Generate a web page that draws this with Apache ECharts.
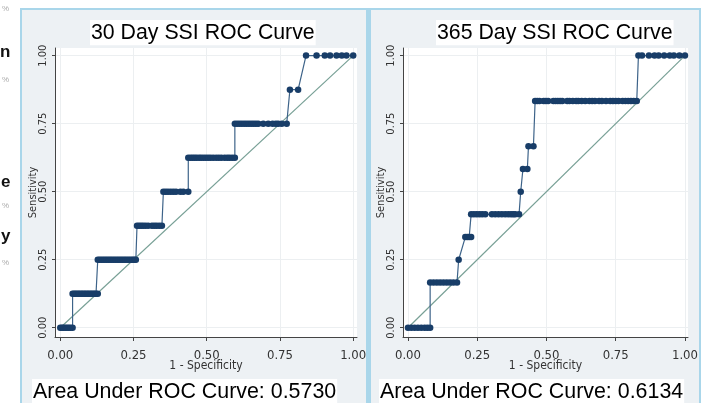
<!DOCTYPE html>
<html>
<head>
<meta charset="utf-8">
<script src="https://cdn.jsdelivr.net/npm/echarts@6/dist/echarts.min.js"></script>
<style>
  html, body { margin:0; padding:0; background:#ffffff; width:702px; height:403px; overflow:hidden; }
  .panel { position:absolute; background:#edf1f4; box-sizing:border-box; border:2px solid #a9d6ea; }
  #p1 { left:20px; top:8px; width:348px; height:402px; }
  #p2 { left:367px; top:8px; width:334px; height:402px; border-left:4px solid #a9d6ea; }
  #chart { position:absolute; left:0; top:0; width:702px; height:403px; }
</style>
</head>
<body>
<div class="panel" id="p1"></div>
<div class="panel" id="p2"></div>
<div id="chart"></div>
<script>
// ---- Data ----
const titles = ['30 Day SSI ROC Curve', '365 Day SSI ROC Curve'];
const aucTexts = ['Area Under ROC Curve: 0.5730', 'Area Under ROC Curve: 0.6134'];
const tickValues = [0, 0.25, 0.5, 0.75, 1];
const tickLabels = ['0.00', '0.25', '0.50', '0.75', '1.00'];

// 30-day: sensitivity levels and the 1-specificity values of the points on each level
const sens30 = [0, 0.125, 0.25, 0.375, 0.5, 0.625, 0.75, 0.875, 1.0];
const fpr30 = [
  [0, 0.006, 0.011, 0.017, 0.023, 0.029, 0.035, 0.042],
  [0.042, 0.047, 0.052, 0.057, 0.062, 0.067, 0.072, 0.077, 0.082, 0.087, 0.092, 0.097, 0.102, 0.107, 0.112, 0.117, 0.122, 0.128],
  [0.128, 0.134, 0.14, 0.146, 0.152, 0.158, 0.164, 0.17, 0.176, 0.182, 0.188, 0.194, 0.2, 0.206, 0.212, 0.218, 0.224, 0.23, 0.236, 0.242, 0.248, 0.253, 0.258],
  [0.262, 0.269, 0.276, 0.283, 0.291, 0.3, 0.313, 0.321, 0.329, 0.338, 0.347],
  [0.352, 0.36, 0.368, 0.377, 0.386, 0.395, 0.41, 0.42, 0.437],
  [0.437, 0.445, 0.452, 0.459, 0.466, 0.474, 0.481, 0.489, 0.497, 0.505, 0.513, 0.522, 0.532, 0.541, 0.55, 0.561, 0.57, 0.578, 0.587, 0.596],
  [0.596, 0.604, 0.612, 0.62, 0.628, 0.636, 0.644, 0.652, 0.66, 0.668, 0.676, 0.693, 0.71, 0.725, 0.736, 0.744, 0.756, 0.773],
  [0.784, 0.812],
  [0.839, 0.875, 0.903, 0.921, 0.943, 0.961, 0.977, 1.0]
];

// 365-day
const sens365 = [0, 0.1667, 0.25, 0.3333, 0.4167, 0.5, 0.5833, 0.6667, 0.8333, 1.0];
const fpr365 = [
  [0, 0.012, 0.024, 0.036, 0.048, 0.06, 0.07, 0.08],
  [0.08, 0.092, 0.104, 0.116, 0.128, 0.14, 0.152, 0.164, 0.177],
  [0.183],
  [0.207, 0.214, 0.221, 0.228],
  [0.228, 0.238, 0.248, 0.258, 0.268, 0.279, 0.303, 0.315, 0.327, 0.339, 0.351, 0.362, 0.372, 0.38, 0.387, 0.401],
  [0.407],
  [0.415, 0.431],
  [0.435, 0.453],
  [0.459, 0.467, 0.475, 0.49, 0.498, 0.506, 0.525, 0.533, 0.541, 0.549, 0.557, 0.575, 0.583, 0.595, 0.607, 0.615, 0.627, 0.64, 0.655, 0.665, 0.675, 0.69, 0.7, 0.715, 0.73, 0.74, 0.75, 0.76, 0.775, 0.785, 0.795, 0.805, 0.815, 0.826],
  [0.832, 0.845, 0.87, 0.89, 0.905, 0.925, 0.945, 0.96, 0.98, 1.0]
];

const refX = [0, 1];
const refY = [0, 1];

// ---- Build ----
function toPoints(levels, xs) {
  const pts = [];
  levels.forEach((s, i) => xs[i].forEach(x => pts.push([x, s])));
  return pts;
}
const roc30 = toPoints(sens30, fpr30);
const roc365 = toPoints(sens365, fpr365);
const refLine = refX.map((x, i) => [x, refY[i]]);

const narrow = "'Liberation Sans Narrow', 'Arial Narrow', 'DejaVu Sans Condensed', sans-serif";
const sans = "'Liberation Sans', Arial, sans-serif";

function xAx(idx, max) {
  return {
    type: 'value', gridIndex: idx, min: -0.018, max: max,
    name: '1 - Specificity', nameLocation: 'middle', nameGap: 23, nameMoveOverlap: false,
    nameTextStyle: { fontFamily: narrow, fontSize: 12, color: '#333' },
    axisLine: { show: true, onZero: false, lineStyle: { color: '#444', width: 1 } },
    axisTick: { show: true, length: 4, customValues: tickValues, lineStyle: { color: '#444' } },
    axisLabel: { customValues: tickValues, formatter: v => tickLabels[tickValues.indexOf(v)] ?? '', margin: 12,
                 fontFamily: narrow, fontSize: 13, color: '#333' },
    splitLine: { show: true, lineStyle: { color: '#eceff1', width: 1 } }
  };
}
function yAx(idx) {
  return {
    type: 'value', gridIndex: idx, min: -0.034, max: 1.028,
    name: 'Sensitivity', nameLocation: 'middle', nameGap: 16, nameMoveOverlap: false,
    nameTextStyle: { fontFamily: narrow, fontSize: 11, color: '#333' },
    axisLine: { show: true, onZero: false, lineStyle: { color: '#444', width: 1 } },
    axisTick: { show: true, length: 3, customValues: tickValues, lineStyle: { color: '#444' } },
    axisLabel: { customValues: tickValues, formatter: v => tickLabels[tickValues.indexOf(v)] ?? '', rotate: 90, margin: 6,
                 fontFamily: narrow, fontSize: 11, color: '#333' },
    splitLine: { show: true, lineStyle: { color: '#eceff1', width: 1 } }
  };
}
function rocSeries(idx, data) {
  return {
    type: 'line', xAxisIndex: idx, yAxisIndex: idx, data: data,
    symbol: 'circle', symbolSize: 6.5, showSymbol: true,
    itemStyle: { color: '#183d68' },
    lineStyle: { color: '#3d6389', width: 1.2 },
    z: 4, animation: false
  };
}
function refSeries(idx) {
  return {
    type: 'line', xAxisIndex: idx, yAxisIndex: idx, data: refLine,
    symbol: 'none', lineStyle: { color: '#78a096', width: 1.2 }, z: 3, animation: false
  };
}
function titleBox(text, left, top, size) {
  return {
    text: text, left: left, top: top, padding: [1, 1],
    backgroundColor: '#ffffff',
    textStyle: { fontFamily: sans, fontSize: size, fontWeight: 'normal', color: '#000', lineHeight: size + 2 }
  };
}

const chart = echarts.init(document.getElementById('chart'), null, { renderer: 'canvas' });
chart.setOption({
  backgroundColor: 'transparent',
  animation: false,
  title: [
    titleBox(titles[0], 90, 20, 21.3),
    titleBox(titles[1], 436, 20, 21.3),
    titleBox(aucTexts[0], 32, 379, 21.4),
    titleBox(aucTexts[1], 379, 379, 21.4)
  ],
  grid: [
    { left: 55, right: 345, top: 48, bottom: 66, show: true, backgroundColor: '#ffffff', borderWidth: 0 },
    { left: 403, right: 14, top: 48, bottom: 66, show: true, backgroundColor: '#ffffff', borderWidth: 0 }
  ],
  xAxis: [xAx(0, 1.013), xAx(1, 1.011)],
  yAxis: [yAx(0), yAx(1)],
  series: [refSeries(0), rocSeries(0, roc30), refSeries(1), rocSeries(1, roc365)],
  graphic: [
    { type: 'text', left: 0, top: 44, style: { text: 'n', font: 'bold 17px ' + sans, fill: '#111' } },
    { type: 'text', left: 1, top: 174, style: { text: 'e', font: 'bold 17px ' + sans, fill: '#111' } },
    { type: 'text', left: 1, top: 228, style: { text: 'y', font: 'bold 17px ' + sans, fill: '#111' } },
    { type: 'text', left: 2, top: 5, style: { text: '%', font: '8px ' + sans, fill: '#aaa' } },
    { type: 'text', left: 2, top: 76, style: { text: '%', font: '8px ' + sans, fill: '#aaa' } },
    { type: 'text', left: 2, top: 202, style: { text: '%', font: '8px ' + sans, fill: '#aaa' } },
    { type: 'text', left: 2, top: 259, style: { text: '%', font: '8px ' + sans, fill: '#aaa' } }
  ]
});
</script>
</body>
</html>
